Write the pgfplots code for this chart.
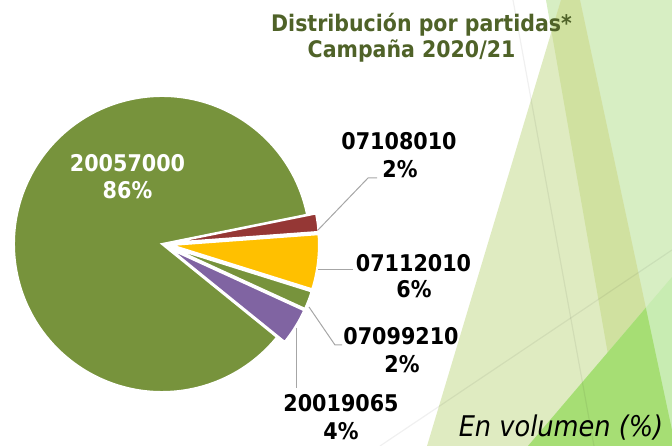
\documentclass[border=0pt]{standalone}
\usepackage{pgfplots}
\pgfplotsset{compat=1.18}
\usepackage{fontspec}
\setmainfont{DejaVu Sans}[FakeStretch=0.9]
\usetikzlibrary{calc}
\definecolor{mainG}{HTML}{77933C}
\definecolor{redS}{HTML}{953735}
\definecolor{yelS}{HTML}{FFC000}
\definecolor{purS}{HTML}{8064A2}
\definecolor{titleC}{HTML}{4F6228}
\definecolor{leadC}{HTML}{A6A6A6}
\definecolor{tA}{HTML}{DFEBC1}
\definecolor{tB}{HTML}{D7EEC3}
\definecolor{tAB}{HTML}{D0E1A0}
\definecolor{tC}{HTML}{A6DE74}
\definecolor{tCl}{HTML}{C8ECB2}
% pie centre (axis units = pt), radius
\def\cx{162}\def\cy{202}\def\R{148}
% \slice{start angle}{percent}{colour}{explosion}
\newcommand\slice[4]{%
  \fill[#3, draw=white, line width=2pt, line join=miter]
    ($(axis cs:\cx,\cy)+({#1+#2*1.8}:#4pt)$) -- ++(#1:\R pt)
    arc[start angle=#1, delta angle={#2*3.6}, radius=\R pt] -- cycle;}
\newcommand\lab[6]{%
  \node[anchor=base, inner sep=0pt] at (axis cs:#1,#2) {#5};
  \node[anchor=base, inner sep=0pt] at (axis cs:#3,#4) {#6};}
\begin{document}
\begin{tikzpicture}
\useasboundingbox (0,0) rectangle (672pt,446pt);
\begin{axis}[x=1pt, y=1pt, xmin=0, xmax=672, ymin=0, ymax=446,
  at={(0,0)}, anchor=south west, hide axis, clip=true]
% ---- decorative background ----
\fill[tB] (axis cs:546,446) -- (axis cs:672,446) -- (axis cs:672,0) -- (axis cs:624,0) -- cycle;
\fill[tA] (axis cs:561,446) -- (axis cs:580,446) -- (axis cs:672,16) -- (axis cs:672,0) -- (axis cs:427,0) -- cycle;
\begin{scope}
  \clip (axis cs:561,446) -- (axis cs:580,446) -- (axis cs:672,16) -- (axis cs:672,0) -- (axis cs:427,0) -- cycle;
  \fill[tAB] (axis cs:546,446) -- (axis cs:672,446) -- (axis cs:672,0) -- (axis cs:624,0) -- cycle;
\end{scope}
\fill[tCl] (axis cs:672,169) -- (axis cs:672,0) -- (axis cs:528,0) -- cycle;
\begin{scope}
  \clip (axis cs:561,446) -- (axis cs:580,446) -- (axis cs:672,16) -- (axis cs:672,0) -- (axis cs:427,0) -- cycle;
  \fill[tC] (axis cs:672,169) -- (axis cs:672,0) -- (axis cs:528,0) -- cycle;
\end{scope}
\draw[black, opacity=0.06, line width=1.2pt] (axis cs:513,446) -- (axis cs:594,0);
\draw[black, opacity=0.06, line width=1.2pt] (axis cs:380,0) -- (axis cs:672,196);
% ---- pie (percent values) ----
\slice{11.4}{86}{mainG}{0}
\slice{-39}{4}{purS}{9}
\slice{-24.6}{2}{mainG}{9}
\slice{-17.4}{6}{yelS}{9}
\slice{4.2}{2}{redS}{9}
% ---- leader lines ----
\draw[leadC, line width=1pt] (axis cs:318,216) -- (axis cs:368,268) -- (axis cs:377,268);
\draw[leadC, line width=1pt] (axis cs:318,176) -- (axis cs:353,176);
\draw[leadC, line width=1pt] (axis cs:309,139) -- (axis cs:335,101) -- (axis cs:342,101);
\draw[leadC, line width=1pt] (axis cs:296,118) -- (axis cs:296,58);
% ---- labels ----
\begin{scope}[font=\fontsize{23}{27}\selectfont\bfseries]
\lab{399}{296}{400}{268}{07108010}{2\%}
\lab{413.5}{174}{414}{148}{07112010}{6\%}
\lab{401}{101}{402}{73}{07099210}{2\%}
\lab{341}{34}{341}{6}{20019065}{4\%}
\begin{scope}[white]
\lab{127.5}{274}{127.5}{247}{20057000}{86\%}
\end{scope}
\end{scope}
\begin{scope}[font=\fontsize{22.8}{27}\selectfont\bfseries, titleC]
\lab{421.5}{414}{411.5}{388}{Distribución por partidas*}{Campaña 2020/21}
\end{scope}
\node[anchor=base, inner sep=0pt, font=\fontsize{28.5}{32}\selectfont\itshape] at (axis cs:561,9) {En volumen (\%)};
\end{axis}
\end{tikzpicture}
\end{document}
